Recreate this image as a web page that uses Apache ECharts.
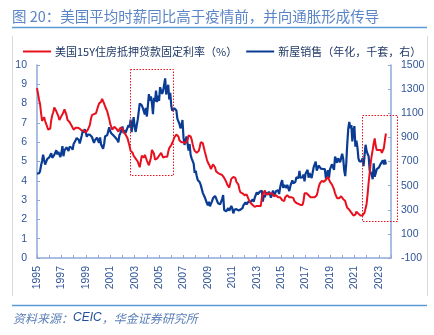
<!DOCTYPE html>
<html><head><meta charset="utf-8">
<script src="https://cdn.jsdelivr.net/npm/echarts@6/dist/echarts.min.js"></script>
<style>html,body{margin:0;padding:0;background:#fff}#c{width:434px;height:335px}</style>
</head><body><div id="c"></div>
<script>
// ---------------- data ----------------
const startYear = 1995;               // first month = Jan 1995, monthly data
const seriesNames = ['美国15Y住房抵押贷款固定利率（%）', '新屋销售（年化，千套，右）'];
// US 15Y fixed mortgage rate (%), monthly
const mortgageRate = [
 8.80,8.52,8.20,7.98,7.51,7.10,7.15,7.30,7.10,6.95,6.80,6.65,
 6.60,6.70,7.15,7.40,7.55,7.80,7.85,7.60,7.65,7.35,7.15,7.20,
 7.35,7.30,7.55,7.70,7.60,7.40,7.15,7.10,7.05,6.95,6.85,6.75,
 6.65,6.70,6.75,6.80,6.75,6.70,6.70,6.65,6.60,6.55,6.60,6.60,
 6.50,6.55,6.65,6.70,6.90,7.20,7.40,7.50,7.45,7.55,7.50,7.60,
 7.85,8.00,8.05,8.10,8.25,8.15,8.00,7.85,7.80,7.60,7.40,7.20,
 6.95,6.80,6.65,6.70,6.80,6.75,6.70,6.60,6.55,6.60,6.75,6.80,
 6.70,6.55,6.50,6.40,6.35,6.20,6.00,5.80,5.55,5.50,5.45,5.30,
 5.25,5.15,5.05,5.00,4.85,4.70,4.80,5.30,5.30,5.20,5.35,5.45,
 5.05,4.95,4.80,4.75,5.20,5.60,5.70,5.40,5.10,5.05,5.15,5.25,
 5.30,5.20,5.45,5.35,5.20,5.15,5.25,5.30,5.25,5.50,5.70,5.80,
 5.85,5.95,6.10,6.25,6.35,6.40,6.45,6.30,6.10,6.05,6.00,5.95,
 6.00,6.05,5.95,6.00,6.10,6.35,6.40,6.30,6.15,5.90,5.70,5.55,
 5.50,5.45,5.50,5.55,5.75,6.00,6.05,5.95,5.85,5.50,5.40,5.10,
 4.95,4.85,4.75,4.60,4.50,4.85,4.75,4.70,4.50,4.40,4.40,4.40,
 4.35,4.40,4.30,4.30,4.15,4.10,3.95,3.80,3.70,3.65,3.75,4.10,
 4.15,4.20,4.10,4.15,3.95,3.85,3.80,3.55,3.40,3.40,3.35,3.30,
 3.25,3.25,3.30,3.20,3.05,2.95,2.85,2.80,2.75,2.70,2.65,2.65,
 2.70,2.75,2.70,2.65,2.70,3.10,3.30,3.35,3.50,3.30,3.25,3.30,
 3.40,3.35,3.30,3.35,3.25,3.20,3.25,3.25,3.30,3.15,3.20,3.15,
 3.05,3.00,3.10,2.95,3.15,3.25,3.25,3.20,3.15,3.05,3.15,3.20,
 3.10,2.95,2.95,2.85,2.85,2.80,2.75,2.75,2.75,2.75,2.95,3.35,
 3.40,3.35,3.35,3.25,3.20,3.15,3.20,3.15,3.10,3.15,3.20,3.25,
 3.45,3.70,3.85,3.85,4.00,4.00,3.95,3.95,4.05,4.15,4.20,4.10,
 3.95,3.85,3.80,3.70,3.55,3.35,3.25,3.10,3.05,3.10,3.15,3.20,
 3.15,3.05,3.00,2.95,2.75,2.60,2.55,2.50,2.45,2.35,2.35,2.20,
 2.25,2.25,2.40,2.35,2.30,2.25,2.20,2.15,2.20,2.30,2.35,2.40,
 2.80,3.30,3.90,4.40,4.90,5.30,5.60,5.95,6.20,5.80,5.60,5.70,
 5.60,5.50,5.60,5.45,5.40,5.70,6.10,6.45
];
// US new home sales (SAAR, thousands), monthly
const newHomeSales = [
 598,614,603,620,667,705,757,712,674,662,720,716,
 734,747,768,730,731,755,768,794,759,779,770,737,
 774,827,744,791,787,818,808,787,823,807,815,797,
 845,853,876,895,889,880,849,880,916,958,939,968,
 955,905,924,920,922,912,904,891,854,877,869,898,
 873,856,900,841,857,805,847,910,923,918,927,983,
 951,934,926,917,905,899,891,878,859,918,935,925,
 990,936,961,936,959,946,1001,983,1048,944,1008,1068,
 989,945,998,1045,1058,1181,1178,1165,1144,1128,1090,1145,
 1073,1164,1259,1203,1240,1183,1092,1228,1197,1287,1192,1245,
 1203,1316,1328,1260,1286,1270,1389,1255,1244,1336,1214,1269,
 1162,1120,1124,1141,1133,1123,1053,1056,1013,975,996,1044,
 900,837,841,907,849,790,845,756,726,725,683,606,
 624,580,547,535,528,504,488,440,452,402,397,355,
 338,366,329,343,370,395,408,415,397,408,353,355,
 345,337,388,422,298,300,287,274,314,292,285,331,
 311,270,299,308,306,304,294,294,301,315,314,338,
 336,362,344,339,369,363,365,378,386,366,398,398,
 445,428,420,449,439,458,368,421,404,444,431,426,
 450,428,400,411,460,414,400,455,467,461,431,482,
 521,545,481,505,517,482,507,512,455,495,495,544,
 519,515,531,570,566,560,622,567,575,568,592,536,
 599,585,631,566,604,611,562,572,654,645,699,625,
 637,667,681,641,655,638,622,637,559,562,628,564,
 634,646,677,669,631,741,717,689,727,711,694,732,
 764,724,627,579,684,847,974,1029,977,1002,866,958,
 993,823,873,817,724,701,715,701,725,662,749,839,
 788,762,744,629,636,590,553,685,574,577,636,640,
 649,633,683,683,710,676,714,675
];
// axis ranges
const xRange = [1995, 2024];
const leftRange = [0, 10, 1];
const rightRange = [-100, 1500, 200];
// highlighted periods (data coords on left axis): [x0, yTop, x1, yBottom]
const highlightBoxes = [[2002.6, 9.8, 2006.15, 4.3], [2021.6, 7.4, 2024.5, 1.9]];

// ---------------- chart ----------------
const toPairs = arr => arr.map((v, i) => [startYear + i / 12, v]);
const chart = echarts.init(document.getElementById('c'), null, {renderer: 'canvas'});
const axisBlue = '#8EA9D8';
const labelBlue = '#2F5597';
const numFont = "'Liberation Sans', Arial, sans-serif";
const cjkFont = "'Noto Sans CJK SC', sans-serif";

const decor = [
  {type: 'text', left: 12, top: 9, style: {text: '图 20：美国平均时薪同比高于疫情前，并向通胀形成传导', font: "14.5px 'Noto Sans CJK SC', sans-serif", fill: '#5A85C6'}},
  {type: 'line', shape: {x1: 12, y1: 27.5, x2: 427, y2: 27.5}, style: {stroke: '#5B9BD5', lineWidth: 1.5}},
  {type: 'line', shape: {x1: 12.5, y1: 36, x2: 12.5, y2: 296}, style: {stroke: '#D9D9D9', lineWidth: 1}},
  {type: 'line', shape: {x1: 427.5, y1: 36, x2: 427.5, y2: 296}, style: {stroke: '#D9D9D9', lineWidth: 1}},
  {type: 'line', shape: {x1: 12, y1: 305.5, x2: 427, y2: 305.5}, style: {stroke: '#5B9BD5', lineWidth: 1.5}},
  {type: 'text', left: 13, top: 312, style: {
    text: '{a|资料来源：}{b|CEIC}{a|，华金证券研究所}',
    rich: {
      a: {fontFamily: "'Noto Sans CJK SC', sans-serif", fontSize: 12, fontStyle: 'italic', fill: '#5B7FB8', color: '#5B7FB8'},
      b: {fontFamily: numFont, fontSize: 12, fontStyle: 'italic', fill: '#1F4E9A', color: '#1F4E9A'}
    }
  }}
];

chart.setOption({
  animation: false,
  backgroundColor: '#fff',
  grid: {left: 37, right: 43, top: 65, bottom: 77, containLabel: false},
  legend: {
    left: 18, top: 41, itemWidth: 28, itemHeight: 2, itemGap: 9, icon: 'rect',
    textStyle: {fontSize: 11, fontFamily: cjkFont, color: '#1F3864', padding: [0,0,0,-1]},
    data: seriesNames
  },
  xAxis: {
    type: 'value', min: xRange[0], max: xRange[1], interval: 1,
    axisLine: {lineStyle: {color: axisBlue, width: 1.5}},
    axisTick: {inside: true, length: 3, lineStyle: {color: axisBlue}},
    splitLine: {show: false},
    axisLabel: {rotate: 90, margin: 8, fontSize: 10.5, fontFamily: numFont, color: labelBlue,
      formatter: v => (v % 2 === 1 ? String(v) : '')}
  },
  yAxis: [
    {type: 'value', min: leftRange[0], max: leftRange[1], interval: leftRange[2],
     axisLine: {show: true, lineStyle: {color: axisBlue, width: 1.5}},
     axisTick: {show: true, inside: true, length: 3, lineStyle: {color: axisBlue}},
     splitLine: {show: false},
     axisLabel: {margin: 10, fontSize: 10.5, fontFamily: numFont, color: labelBlue, formatter: v => String(v)}},
    {type: 'value', min: rightRange[0], max: rightRange[1], interval: rightRange[2], position: 'right',
     axisLine: {show: true, lineStyle: {color: axisBlue, width: 1.5}},
     axisTick: {show: true, inside: true, length: 3, lineStyle: {color: axisBlue}},
     splitLine: {show: false},
     axisLabel: {margin: 10, fontSize: 10.5, fontFamily: numFont, color: labelBlue, formatter: v => String(v)}}
  ],
  series: [
    {name: seriesNames[0], type: 'line', yAxisIndex: 0, data: toPairs(mortgageRate), showSymbol: false,
     lineStyle: {color: '#E8101E', width: 2}, itemStyle: {color: '#E8101E'}, z: 3},
    {name: seriesNames[1], type: 'line', yAxisIndex: 1, data: toPairs(newHomeSales), showSymbol: false,
     lineStyle: {color: '#0A3C94', width: 2.2}, itemStyle: {color: '#0A3C94'}, z: 2}
  ],
  graphic: decor
});

// dashed highlight boxes from data coordinates
const boxes = highlightBoxes.map(b => {
  const p0 = chart.convertToPixel({xAxisIndex: 0, yAxisIndex: 0}, [b[0], b[1]]);
  const p1 = chart.convertToPixel({xAxisIndex: 0, yAxisIndex: 0}, [b[2], b[3]]);
  return {type: 'rect', shape: {x: Math.round(p0[0]) + 0.5, y: Math.round(p0[1]) + 0.5,
    width: Math.round(p1[0] - p0[0]), height: Math.round(p1[1] - p0[1])},
    style: {fill: 'none', stroke: '#E8101E', lineWidth: 1, lineDash: [1.5, 1.5]}, z: 10};
});
chart.setOption({graphic: decor.concat(boxes)});
</script>
</body></html>
